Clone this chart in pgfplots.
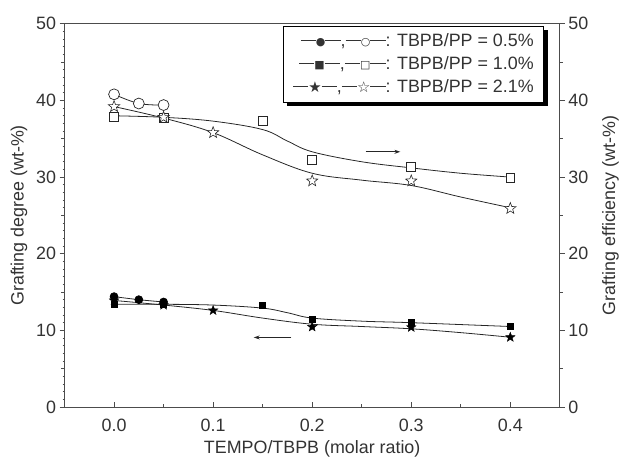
\documentclass[border=0pt]{standalone}
\usepackage{fontspec}
\setmainfont{Liberation Sans}
\newfontfamily\symf{DejaVu Sans}
\usepackage{pgfplots}
\pgfplotsset{compat=1.18}
\usetikzlibrary{shadows,arrows.meta}
\colorlet{ax}{black!70}
\colorlet{tx}{black!80}

\pgfdeclareplotmark{fivestar}{%
  \pgfpathmoveto{\pgfpointpolar{90}{\pgfplotmarksize}}%
  \pgfpathlineto{\pgfpointpolar{126}{0.42\pgfplotmarksize}}%
  \pgfpathlineto{\pgfpointpolar{162}{\pgfplotmarksize}}%
  \pgfpathlineto{\pgfpointpolar{198}{0.42\pgfplotmarksize}}%
  \pgfpathlineto{\pgfpointpolar{234}{\pgfplotmarksize}}%
  \pgfpathlineto{\pgfpointpolar{270}{0.42\pgfplotmarksize}}%
  \pgfpathlineto{\pgfpointpolar{306}{\pgfplotmarksize}}%
  \pgfpathlineto{\pgfpointpolar{342}{0.42\pgfplotmarksize}}%
  \pgfpathlineto{\pgfpointpolar{18}{\pgfplotmarksize}}%
  \pgfpathlineto{\pgfpointpolar{54}{0.42\pgfplotmarksize}}%
  \pgfpathclose
  \pgfusepathqfillstroke
}

\newcommand\dsh{\rule[0.3em]{0.85em}{0.9pt}}
\newcommand\sy[2][11]{\raisebox{0.02em}{\symf\fontsize{#1}{12}\selectfont #2}}
\newcommand\entry[4][11]{\dsh\sy[#1]{#2}\dsh,\dsh\sy[#1]{#3}\dsh: TBPB/PP = #4\%}

\pgfplotsset{
  base/.style={scale only axis, width=499pt, height=386pt,
    xmin=-0.05, xmax=0.45, ymin=0, ymax=50,
    /pgf/number format/assume math mode=true,
    axis line style={ax, line width=0.8pt},
    tick style={ax, line width=0.7pt},
    major tick length=5pt, minor tick length=3pt,
    tick label style={text=tx, font=\fontsize{18}{21}\selectfont},
    label style={text=tx, font=\fontsize{18}{21}\selectfont}},
  fit/.style={smooth, tension=0.6, line width=0.8pt, black!85, mark=none, forget plot},
  pts/.style={only marks, line width=0.7pt, forget plot},
}

\begin{document}
\begin{tikzpicture}[font=\fontsize{18}{21}\selectfont]
\begin{axis}[base, name=main, tick align=inside,
  xtick={0,0.1,0.2,0.3,0.4}, xticklabels={0.0,0.1,0.2,0.3,0.4},
  minor xtick={0.05,0.15,0.25,0.35},
  xtick pos=bottom, ytick=\empty,
  xticklabel style={yshift=-9pt},
  xlabel={TEMPO/TBPB (molar ratio)},
  xlabel style={at={(axis description cs:0.5,-0.0984)}, anchor=center, yshift=-4pt},
]
% fitted curves (upper: grafting efficiency)
\addplot[fit] coordinates {(0,40.8) (0.025,39.6) (0.05,39.4)};
\addplot[fit] coordinates {(0,38.0) (0.05,37.8) (0.1,37.3) (0.15,36.2) (0.175,34.7) (0.2,33.3) (0.25,32.0) (0.3,31.2) (0.35,30.5) (0.4,30.0)};
\addplot[fit] coordinates {(0,39.2) (0.05,37.7) (0.1,35.8) (0.15,32.9) (0.2,30.5) (0.25,29.6) (0.3,28.9) (0.35,27.4) (0.4,26.0)};
% fitted curves (lower: grafting degree)
\addplot[fit] coordinates {(0,14.4) (0.025,14.0) (0.05,13.7)};
\addplot[fit] coordinates {(0,13.4) (0.05,13.4) (0.1,13.3) (0.15,12.9) (0.175,12.3) (0.2,11.6) (0.25,11.2) (0.3,11.0) (0.4,10.5)};
\addplot[fit] coordinates {(0,13.9) (0.05,13.3) (0.1,12.6) (0.15,11.6) (0.2,10.8) (0.25,10.5) (0.3,10.2) (0.35,9.7) (0.4,9.1)};
% open markers
\addplot[pts, mark=square*, mark size=4.5pt, mark options={draw=black!85, fill=white}] coordinates {(0,37.9) (0.05,37.7) (0.15,37.3) (0.2,32.2) (0.3,31.3) (0.4,29.9)};
\addplot[pts, mark=fivestar, mark size=6pt, mark options={draw=black!85, fill=white, line width=0.6pt}] coordinates {(0,39.2) (0.05,37.8) (0.1,35.8) (0.2,29.5) (0.3,29.5) (0.4,25.9)};
\addplot[pts, mark=*, mark size=5.5pt, mark options={draw=black!85, fill=white}] coordinates {(0,40.8) (0.025,39.6) (0.05,39.4)};
% filled markers
\addplot[pts, mark=square*, mark size=3pt, mark options={draw=black, fill=black}] coordinates {(0,13.4) (0.05,13.4) (0.15,13.2) (0.2,11.4) (0.3,11.0) (0.4,10.5)};
\addplot[pts, mark=fivestar, mark size=5pt, mark options={draw=black, fill=black, line width=0.4pt}] coordinates {(0,13.9) (0.05,13.3) (0.1,12.6) (0.2,10.45) (0.3,10.4) (0.4,9.1)};
\addplot[pts, mark=*, mark size=4pt, mark options={draw=black, fill=black}] coordinates {(0,14.4) (0.025,14.0) (0.05,13.7)};
% arrows
\draw[-{Stealth[length=6pt,width=4pt]}, line width=0.8pt, black!85] (axis cs:0.254,33.3) -- (axis cs:0.289,33.3);
\draw[-{Stealth[length=6pt,width=4pt]}, line width=0.8pt, black!85] (axis cs:0.179,9.07) -- (axis cs:0.141,9.07);
% legend
\node[draw=black, line width=0.8pt, fill=white, text=tx,
  drop shadow={shadow xshift=4pt, shadow yshift=-4pt, opacity=1, fill=black},
  anchor=north east, align=right, inner xsep=10pt, inner ysep=7pt,
  font=\fontsize{18}{23.5}\selectfont]
  at (rel axis cs:0.968,0.995)
  {\entry{●}{○}{0.5}\\ \entry{■}{□}{1.0}\\ \entry[15]{★}{☆}{2.1}};
\end{axis}

% left y axis
\begin{axis}[base, axis x line=none, axis y line*=left, tick align=outside,
  ytick={0,10,...,50}, minor tick num=9, minor tick length=2pt,
  extra y ticks={5,15,25,35,45}, extra y tick labels={},
  extra y tick style={major tick length=3.5pt},
  ylabel={Grafting degree (wt-\%)},
  ylabel style={at={(axis description cs:-0.092,0.5)}, anchor=center},
]
\end{axis}

% right y axis
\begin{axis}[base, axis x line=none, axis y line*=right, tick align=outside,
  ytick={0,10,...,50}, minor ytick={5,15,25,35,45},
  ylabel={Grafting efficiency (wt-\%)},
  ylabel style={at={(axis description cs:1.102,0.5)}, anchor=center},
]
\end{axis}

\path (main.south west) +(-65pt,-52pt);
\path (main.north east) +(58pt,24pt);
\end{tikzpicture}
\end{document}
